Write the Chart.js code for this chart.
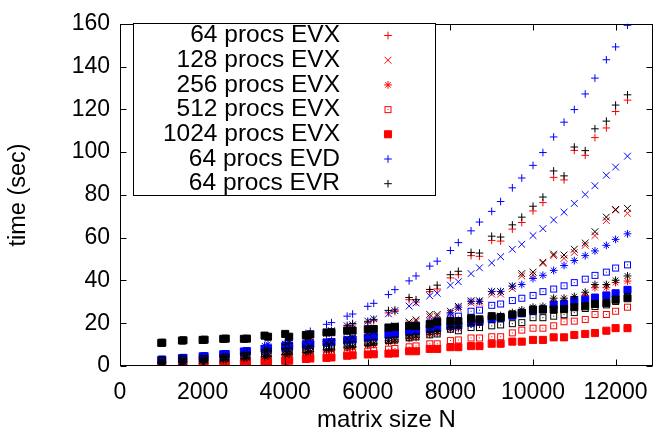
<!DOCTYPE html>
<html>
<head>
<meta charset="utf-8">
<script src="https://cdn.jsdelivr.net/npm/chart.js@4.4.0/dist/chart.umd.min.js"></script>
<style>
  html, body { margin: 0; padding: 0; background: #fff; }
  #wrap { width: 661px; height: 437px; position: relative; }
</style>
</head>
<body>
<div id="wrap"><canvas id="chart"></canvas></div>
<script>
// matrix sizes: multiples of 500 and of 512
const sizes = [1000,1024,1500,1536,2000,2048,2500,2560,3000,3072,3500,3584,4000,4096,4500,4608,5000,5120,5500,5632,6000,6144,6500,6656,7000,7168,7500,7680,8000,8192,8500,8704,9000,9216,9500,9728,10000,10240,10500,10752,11000,11264,11500,11776,12000,12288];

// time (sec), EVX (red)
const evx64 = [0.8,0.9,1.5,1.6,2.4,2.6,3.6,3.9,5.0,5.3,6.9,7.3,9.2,9.7,11.8,12.4,14.8,15.6,18.2,19.2,20.2,21.2,24.8,25.5,31.0,29.9,34.8,36.0,41.2,42.7,51.6,51.3,58.7,58.4,64.0,67.1,72.5,76.4,88.2,87.0,100.8,98.5,106.8,111.3,119.0,124.3];
const evx128 = [0.8,0.9,1.3,1.4,2.0,2.1,2.7,2.9,3.7,3.9,4.9,5.2,6.4,6.8,8.1,8.6,10.1,10.6,12.2,12.9,14.6,15.4,17.2,18.0,19.8,20.8,23.0,23.2,24.6,26.8,29.5,29.5,33.6,33.6,36.2,42.1,42.7,48.0,51.6,50.3,53.1,56.4,61.0,68.0,72.9,71.4];
const evx256 = [0.9,1.0,1.3,1.4,1.8,1.9,2.4,2.5,3.0,3.2,3.8,4.0,4.8,5.0,5.8,6.1,7.0,7.3,8.3,8.6,9.6,10.0,11.1,11.5,12.8,13.3,14.7,15.2,17.1,17.6,19.6,20.0,22.0,22.4,23.8,25.0,26.2,26.6,30.0,30.0,31.0,33.0,36.6,36.6,39.0,39.7];
const evx512 = [0.7,0.7,1.0,1.1,1.4,1.5,1.9,2.0,2.4,2.5,3.0,3.1,3.6,3.8,4.3,4.5,5.1,5.3,6.0,6.2,6.9,7.2,7.9,8.2,9.0,9.4,10.4,10.4,11.9,12.2,13.1,13.1,13.7,13.7,15.5,16.8,17.7,17.7,18.8,20.7,21.0,21.8,24.1,24.1,25.6,27.5];
const evx1024 = [0.2,0.2,0.4,0.4,0.6,0.6,0.9,1.0,1.3,1.4,1.8,1.9,2.4,2.5,3.3,3.5,3.8,4.0,4.8,5.0,5.4,5.5,5.8,5.9,6.9,6.9,8.0,8.0,8.8,8.8,9.3,9.3,10.4,10.4,11.4,11.4,12.2,12.2,13.4,13.4,14.5,15.0,15.4,16.5,17.7,17.7];

// EVD (blue)
const evd64 = [1.0,1.1,1.8,1.9,2.8,3.0,4.2,4.4,6.0,6.3,8.2,8.7,11.0,11.7,15.2,16.2,19.5,20.3,23.3,24.3,27.9,29.3,33.4,35.7,39.8,42.1,46.7,49.0,54.0,57.7,63.2,67.3,72.3,76.9,83.3,87.9,93.8,99.8,107.1,114.0,119.9,127.2,134.6,143.2,149.2,159.3];
const evd128 = [1.2,1.3,2.0,2.1,2.9,3.1,4.2,4.4,5.7,6.0,7.6,8.0,10.2,10.8,12.8,13.4,15.5,16.5,18.8,19.3,21.0,22.0,24.4,25.9,28.0,29.5,32.8,34.0,37.8,39.4,43.2,45.9,48.2,51.1,54.6,56.9,61.0,64.2,68.3,71.9,76.0,80.2,84.3,89.2,93.0,98.1];
const evd256 = [2.0,2.1,3.0,3.1,4.0,4.2,5.0,5.3,6.5,7.0,9.5,10.2,10.5,11.0,10.8,11.2,11.5,11.8,12.4,12.8,14.0,14.6,16.2,16.8,18.5,19.2,21.0,21.8,24.9,27.5,30.2,30.2,34.8,34.8,37.3,38.1,40.9,42.4,44.7,47.0,49.3,51.6,53.8,56.4,59.2,61.8];
const evd512 = [2.5,2.6,3.1,3.2,3.9,4.0,4.8,5.0,6.0,6.2,7.1,7.4,8.2,8.5,9.3,9.6,10.5,10.8,11.8,12.2,13.4,14.0,15.4,16.0,17.6,18.2,19.8,20.5,22.0,23.3,25.6,26.1,28.4,29.0,30.6,31.7,33.0,34.8,36.0,37.5,39.0,40.6,42.4,43.9,45.8,47.3];
const evd1024 = [2.9,3.0,3.7,3.8,4.5,4.6,5.5,5.6,6.8,7.0,8.0,8.2,9.0,9.2,10.0,10.2,11.0,11.2,12.0,12.4,13.2,13.6,14.6,15.0,16.0,16.4,17.4,17.8,18.6,19.0,20.2,20.6,22.0,22.4,23.5,24.6,25.8,26.5,28.7,29.0,30.5,31.0,32.0,33.0,34.0,35.6];

// EVR (black)
const evr64 = [1.5,1.6,2.2,2.3,3.2,3.3,4.4,4.6,5.8,6.1,7.7,8.1,10.0,10.5,12.6,13.2,15.6,16.4,19.0,19.9,20.9,21.8,26.0,26.2,32.0,31.0,35.8,37.8,42.7,44.3,53.1,52.8,60.7,60.3,66.0,69.6,74.7,79.0,91.2,88.9,102.4,100.7,110.9,114.5,122.0,126.8];
const evr128 = [1.7,1.8,2.1,2.2,2.7,2.8,3.3,3.5,4.3,4.5,5.5,5.8,7.0,7.4,8.7,9.2,10.7,11.2,12.8,13.5,15.3,16.1,18.0,18.8,20.6,21.6,24.1,24.1,25.6,27.9,30.5,30.5,34.8,34.8,37.4,43.2,43.9,48.5,52.3,51.9,54.6,57.5,62.8,69.6,73.2,73.7];
const evr256 = [1.5,1.6,1.9,2.0,2.4,2.5,3.0,3.1,3.6,3.8,4.4,4.6,5.4,5.6,6.4,6.7,7.6,7.9,8.9,9.2,10.2,10.6,11.8,12.2,13.5,14.0,15.5,16.0,18.0,18.5,20.6,21.0,23.2,23.6,25.0,26.2,27.5,27.9,31.7,31.7,32.5,34.5,38.1,38.1,40.1,42.1];
const evr512 = [2.7,2.8,3.2,3.3,3.5,3.6,4.0,4.1,4.8,5.0,5.8,6.0,6.8,7.0,7.8,8.0,8.8,9.0,9.8,10.0,10.8,11.1,11.9,12.2,13.2,13.6,14.6,15.0,17.2,16.5,18.0,18.0,18.8,19.2,19.8,20.3,22.6,22.6,23.3,24.0,25.0,26.9,27.8,28.6,30.2,32.5];
const evr1024 = [10.8,10.9,11.9,12.0,12.2,12.3,12.7,12.8,12.7,12.8,14.2,13.7,15.0,13.7,14.5,14.8,15.7,15.8,16.5,16.6,17.2,17.3,18.0,18.3,18.8,18.8,19.5,20.7,21.0,21.0,22.3,21.8,23.3,22.9,24.1,24.9,26.4,26.4,26.4,26.6,27.5,27.9,29.0,29.4,31.0,31.7];

const xTicks = [0, 2000, 4000, 6000, 8000, 10000, 12000];
const yTicks = [0, 20, 40, 60, 80, 100, 120, 140, 160];
const legendLabels = ["64 procs EVX", "128 procs EVX", "256 procs EVX", "512 procs EVX", "1024 procs EVX", "64 procs EVD", "64 procs EVR"];

const RED = "#ff0000", BLUE = "#0000ff", BLACK = "#000000";
const FONT = "'Liberation Sans', Arial, Helvetica, sans-serif";

// gnuplot style open square with a dot in the middle
function openSquare(color) {
    const c = document.createElement("canvas");
    c.width = 9; c.height = 9;
    const g = c.getContext("2d");
    g.strokeStyle = color;
    g.lineWidth = 1;
    g.strokeRect(1.5, 1.5, 6, 6);
    g.fillStyle = color;
    g.fillRect(4, 4, 1, 1);
    return c;
}

const marks = {
    p64: { pointStyle: "cross", radius: 3.8 },
    p128: { pointStyle: "crossRot", radius: 4.8 },
    p256: { pointStyle: "star", radius: 3.9 },
    p512: { pointStyle: null, radius: 4.5 },
    p1024: { pointStyle: "rect", radius: 5 }
};

function makeSet(label, values, color, key, order) {
    const m = marks[key];
    return {
        label: label,
        data: sizes.map((n, i) => ({ x: n, y: values[i] })),
        pointStyle: key === "p512" ? openSquare(color) : m.pointStyle,
        pointRadius: m.radius,
        borderColor: color,
        backgroundColor: color,
        borderWidth: 1,
        showLine: false,
        order: order
    };
}

const datasets = [
    makeSet("64 procs EVX", evx64, RED, "p64", 2),
    makeSet("128 procs EVX", evx128, RED, "p128", 2),
    makeSet("256 procs EVX", evx256, RED, "p256", 2),
    makeSet("512 procs EVX", evx512, RED, "p512", 2),
    makeSet("1024 procs EVX", evx1024, RED, "p1024", 2),
    makeSet("64 procs EVD", evd64, BLUE, "p64", 1),
    makeSet("128 procs EVD", evd128, BLUE, "p128", 1),
    makeSet("256 procs EVD", evd256, BLUE, "p256", 1),
    makeSet("512 procs EVD", evd512, BLUE, "p512", 1),
    makeSet("1024 procs EVD", evd1024, BLUE, "p1024", 1),
    makeSet("64 procs EVR", evr64, BLACK, "p64", 0),
    makeSet("128 procs EVR", evr128, BLACK, "p128", 0),
    makeSet("256 procs EVR", evr256, BLACK, "p256", 0),
    makeSet("512 procs EVR", evr512, BLACK, "p512", 0),
    makeSet("1024 procs EVR", evr1024, BLACK, "p1024", 0)
];

// legend rows use the same marks as the datasets they stand for
const legendSets = [0, 1, 2, 3, 4, 5, 10];

// border, inward ticks on all four sides, and the gnuplot style key
const framePlugin = {
    id: "frame",
    afterDatasetsDraw(chart) {
        const ctx = chart.ctx;
        const a = chart.chartArea;
        const xs = chart.scales.x, ys = chart.scales.y;
        const L = Math.round(a.left) + 0.5, R = Math.round(a.right) - 0.5;
        const T = Math.round(a.top) + 0.5, B = Math.round(a.bottom) - 0.5;
        const tl = 6;
        ctx.save();
        ctx.strokeStyle = "#000";
        ctx.lineWidth = 1;
        ctx.beginPath();
        xTicks.forEach(v => {
            const px = Math.round(xs.getPixelForValue(v)) + 0.5;
            ctx.moveTo(px, B); ctx.lineTo(px, B - tl);
            ctx.moveTo(px, T); ctx.lineTo(px, T + tl);
        });
        yTicks.forEach(v => {
            const py = Math.round(ys.getPixelForValue(v)) + 0.5;
            ctx.moveTo(L, py); ctx.lineTo(L + tl, py);
            ctx.moveTo(R, py); ctx.lineTo(R - tl, py);
        });
        ctx.stroke();
        ctx.strokeRect(L, T, R - L, B - T);

        // key box
        const kx = 133.5, ky = 23.5, kw = 302, kh = 172;
        ctx.fillStyle = "#fff";
        ctx.fillRect(kx, ky, kw, kh);
        ctx.strokeStyle = "#000";
        ctx.strokeRect(kx, ky, kw, kh);
        ctx.font = "24.5px " + FONT;
        ctx.textAlign = "right";
        ctx.textBaseline = "middle";
        legendLabels.forEach((text, i) => {
            const rowY = 35.5 + i * 24.7;
            ctx.fillStyle = "#000";
            ctx.fillText(text, 340, rowY);
            const ds = datasets[legendSets[i]];
            ctx.strokeStyle = ds.borderColor;
            ctx.fillStyle = ds.backgroundColor;
            Chart.helpers.drawPoint(ctx, {
                pointStyle: ds.pointStyle,
                radius: ds.pointRadius,
                borderWidth: 1,
                rotation: 0
            }, 388, rowY);
        });
        ctx.restore();
    }
};

new Chart(document.getElementById("chart"), {
    type: "scatter",
    data: { datasets: datasets },
    options: {
        responsive: true,
        maintainAspectRatio: false,
        animation: false,
        devicePixelRatio: 1,
        layout: { padding: { left: 0, right: 4, top: 17, bottom: 0 } },
        plugins: { legend: { display: false }, tooltip: { enabled: false } },
        scales: {
            x: {
                type: "linear",
                min: 0,
                max: 12900,
                afterFit: s => { s.height = 71; },
                afterBuildTicks: s => { s.ticks = xTicks.map(v => ({ value: v })); },
                grid: { display: false, drawTicks: false },
                border: { display: false },
                ticks: { color: "#000", font: { family: FONT, size: 23 }, padding: 13, maxRotation: 0, callback: v => String(v) },
                title: { display: true, text: "matrix size N", color: "#000", font: { family: FONT, size: 24 }, padding: { top: 0, bottom: 2 } }
            },
            y: {
                type: "linear",
                min: 0,
                max: 160,
                afterFit: s => { s.width = 120; },
                afterBuildTicks: s => { s.ticks = yTicks.map(v => ({ value: v })); },
                grid: { display: false, drawTicks: false },
                border: { display: false },
                ticks: { color: "#000", font: { family: FONT, size: 23 }, padding: 10, callback: v => String(v) },
                title: { display: true, text: "time (sec)", color: "#000", font: { family: FONT, size: 23.5 }, padding: { top: 4, bottom: 0 } }
            }
        }
    },
    plugins: [framePlugin]
});
</script>
</body>
</html>
